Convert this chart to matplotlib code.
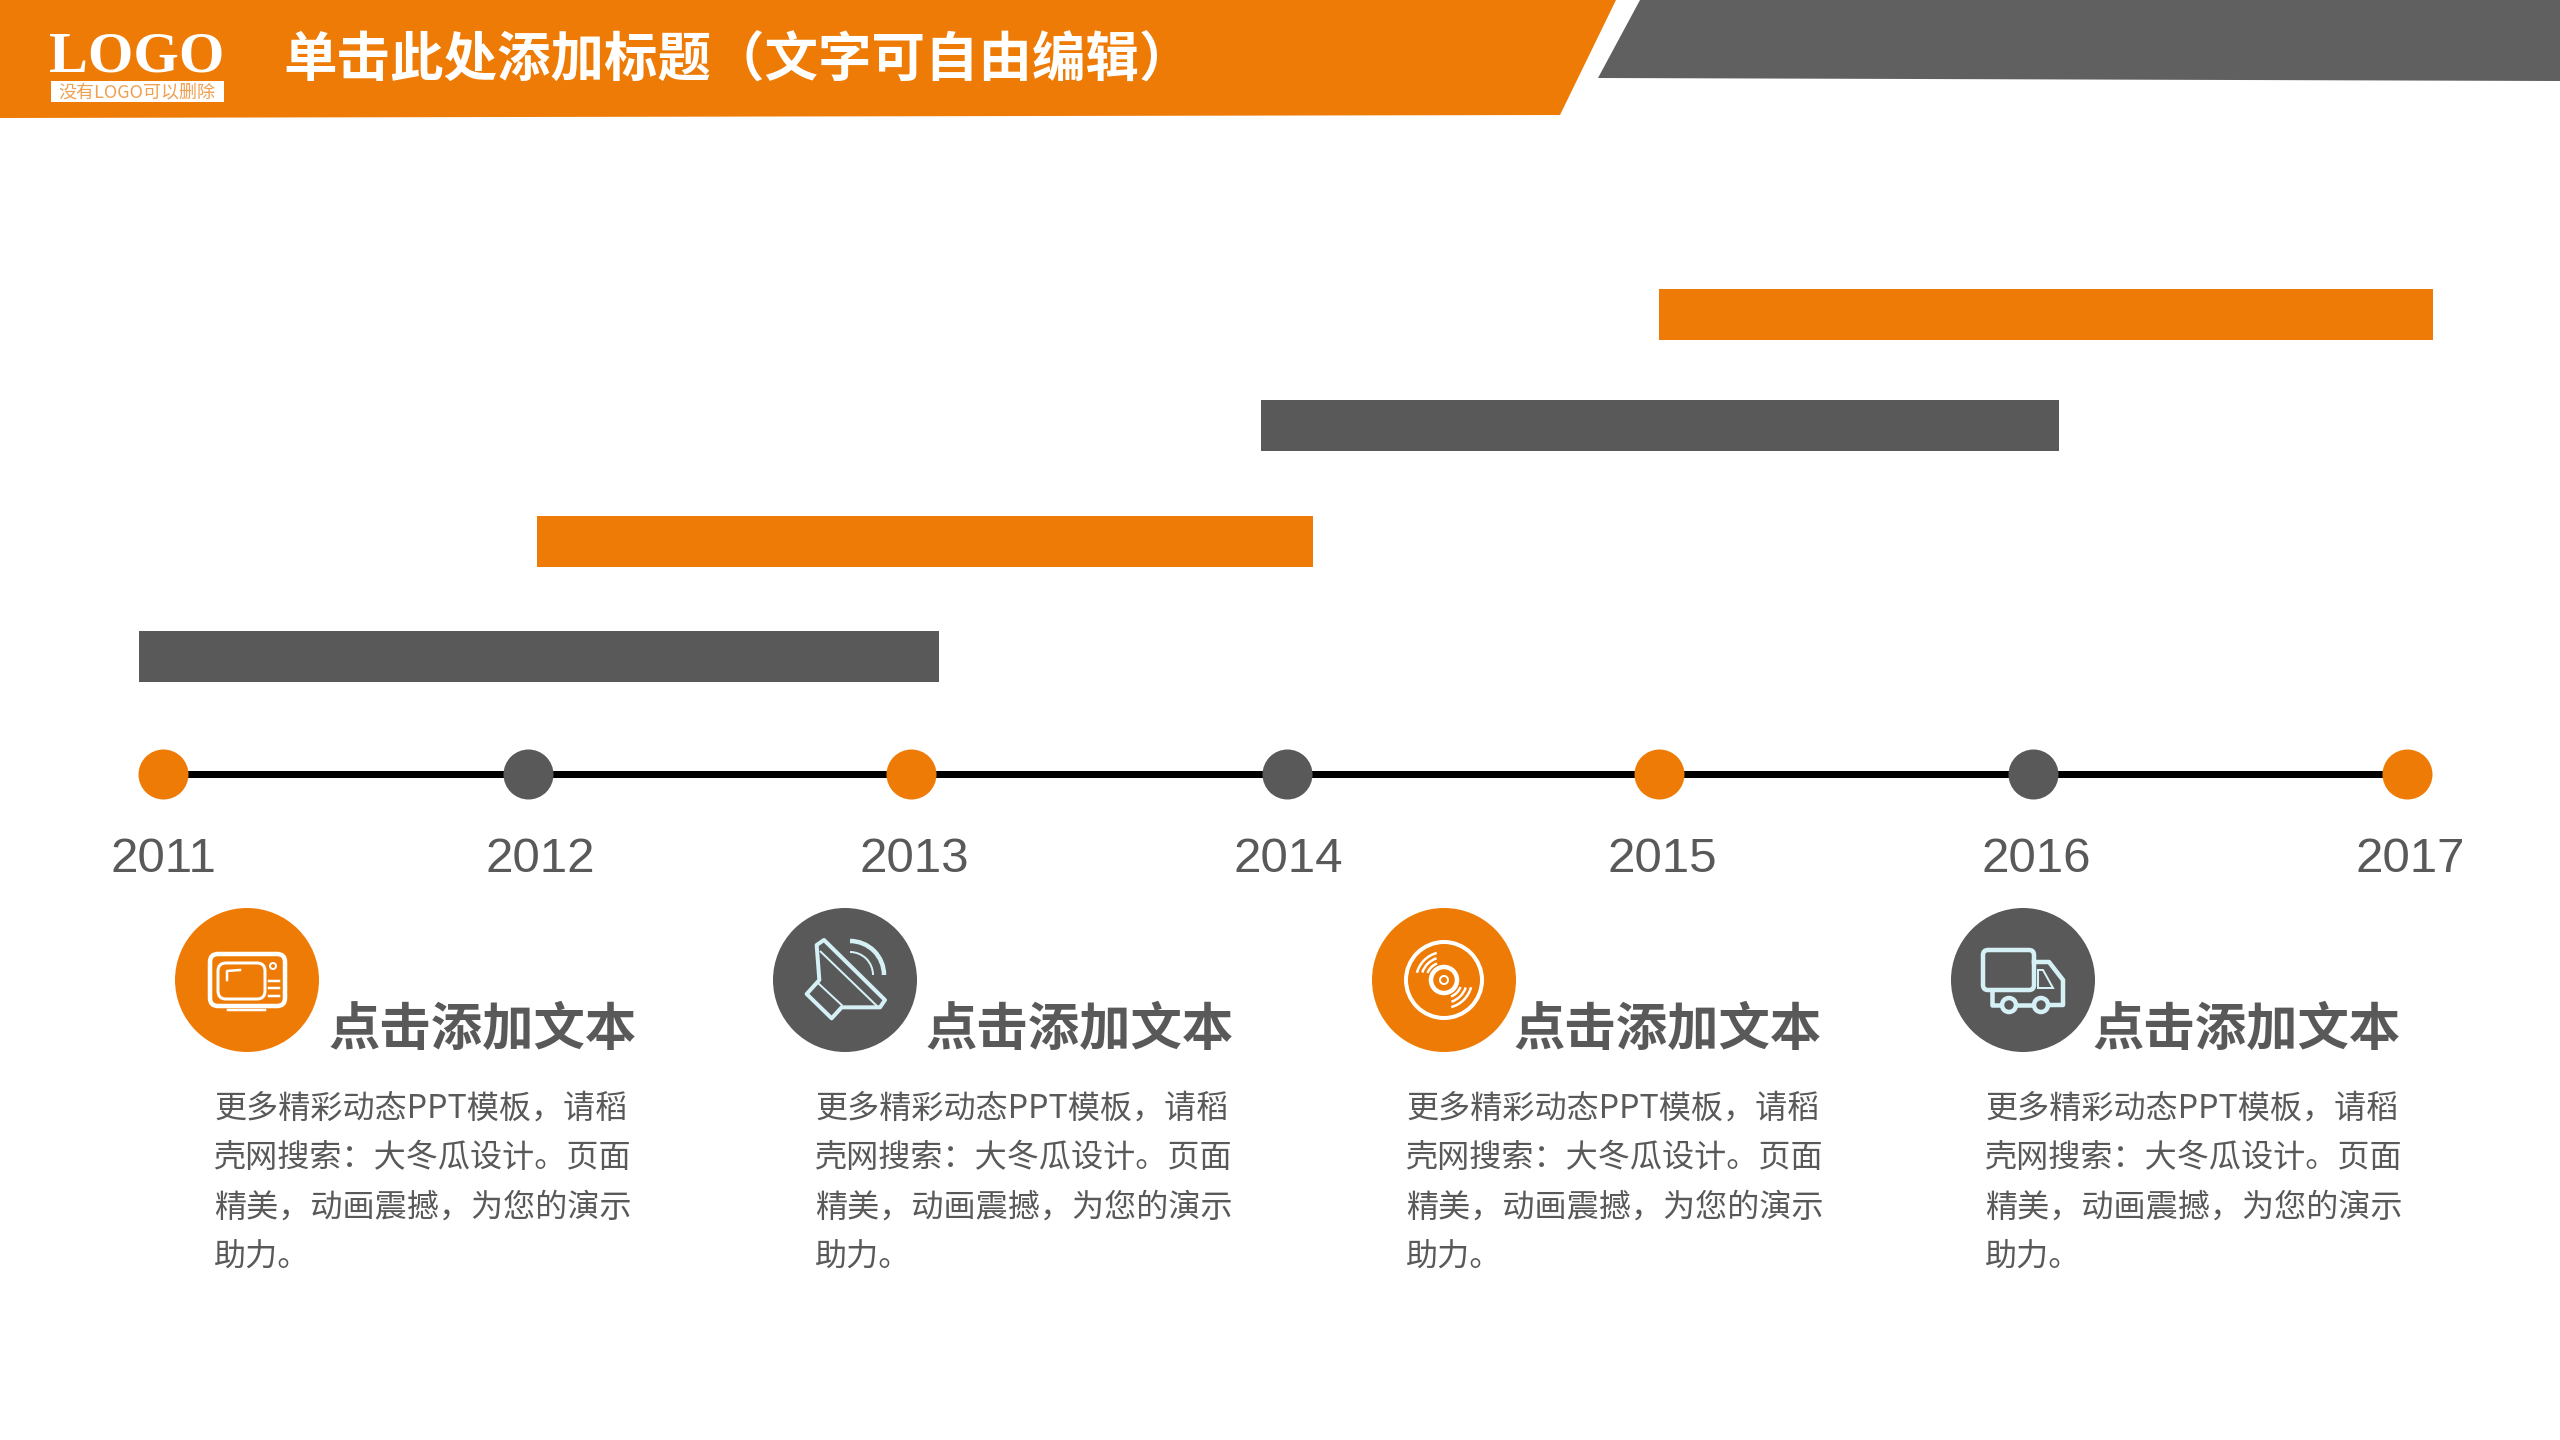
"""
Timeline slide: yearly spans above a dotted axis, four captioned icons below
"""
import numpy as np
import matplotlib
matplotlib.use('Agg')
import matplotlib.pyplot as plt
from matplotlib.patches import Polygon, Circle, FancyBboxPatch, Arc, Rectangle

plt.rcParams['font.family'] = ['Noto Sans CJK SC', 'DejaVu Sans']

ORANGE = '#EE7B06'
GRAY = '#595959'
ICE = '#D6F1F6'

# Data
years = [2011, 2012, 2013, 2014, 2015, 2016, 2017]
dot_years = [2011.0, 2011.975, 2013.0, 2014.005, 2015.0, 2016.0, 2017.0]
label_years = [2011.0, 2012.01, 2013.01, 2014.01, 2015.01, 2016.01, 2017.01]
span_start = [2010.935, 2012.0, 2013.935, 2015.0]
span_end = [2013.075, 2014.075, 2016.07, 2017.07]

title_text = '单击此处添加标题（文字可自由编辑）'
logo_text = 'LOGO'
logo_note = '没有LOGO可以删除'
heading = '点击添加文本'
body_lines = ['更多精彩动态PPT模板，请稻', '壳网搜索：大冬瓜设计。页面', '精美，动画震撼，为您的演示', '助力。']


def px(w):
    """Stroke width in pixels to points (dpi 100)"""
    return w * 0.72


def draw_header(ax):
    ax.add_patch(Polygon([(0, 0), (1616, 0), (1560, 115), (0, 118)], fc=ORANGE, ec='none'))
    ax.add_patch(Polygon([(1640, 0), (2560, 0), (2560, 81), (1598, 78)], fc='#606060', ec='none'))
    ax.text(137, 57, logo_text, color='white', fontsize=42, fontweight='bold',
            family='Liberation Serif', ha='center', va='center')
    ax.add_patch(Rectangle((51, 81), 173, 21, fc='white', ec='none'))
    ax.text(137, 92, logo_note, color='#F0A050', fontsize=13, ha='center', va='center')
    ax.text(283, 61, title_text, color='white', fontsize=38.5, fontweight='bold', ha='left', va='center')


def draw_timeline(fig):
    tl = fig.add_axes([0, 0, 1, 1])
    tl.set_xlim(2011 - 163 / 374, 2011 + (2560 - 163) / 374)
    tl.set_ylim(1440, 0)
    tl.axis('off')
    tl.patch.set_alpha(0)

    rows = [656.5, 541, 425.5, 314.5]
    colors = [GRAY, ORANGE, GRAY, ORANGE]
    lefts = np.array(span_start)
    widths = np.array(span_end) - lefts
    tl.barh(rows, widths, left=lefts, height=51, color=colors)

    tl.plot([dot_years[0], dot_years[-1]], [774, 774], color='black', lw=px(7), zorder=2)
    for i, yr in enumerate(dot_years):
        tl.scatter([yr], [774], s=(2 * 25 * 0.72) ** 2, color=ORANGE if i % 2 == 0 else GRAY,
                   linewidths=0, zorder=3)
    for yr, pos in zip(years, label_years):
        tl.text(pos, 859, str(yr), color=GRAY, fontsize=35.5, family='Liberation Sans',
                ha='center', va='center')


def icon_tv(ax, cx, cy):
    ax.add_patch(FancyBboxPatch((cx - 37, cy - 26), 75, 52, boxstyle='round,pad=0,rounding_size=8',
                                fc='none', ec='white', lw=px(4.5)))
    ax.add_patch(FancyBboxPatch((cx - 29, cy - 17), 47, 36, boxstyle='round,pad=0,rounding_size=8',
                                fc='none', ec='white', lw=px(3)))
    ax.plot([cx - 20, cx - 20, cx - 7], [cy + 0, cy - 9, cy - 10], color='white', lw=px(2.5))
    ax.add_patch(Circle((cx + 26, cy - 14), 3, fc='none', ec='white', lw=px(2)))
    for dy in (1, 8, 16):
        ax.plot([cx + 22, cx + 32], [cy + dy, cy + dy], color='white', lw=px(2.5))
    ax.plot([cx - 19, cx + 18], [cy + 30, cy + 30], color='white', lw=px(2.5))


def icon_speaker(ax, cx, cy):
    x0, y0 = cx - 95, cy - 90
    cone = [(200, 165), (222, 150), (405, 330), (390, 352), (275, 352), (245, 385),
            (170, 312), (208, 270)]
    pts = [(x0 + a / 3, y0 + b / 3) for a, b in cone]
    ax.add_patch(Polygon(pts, closed=True, fc='none', ec=ICE, lw=px(4), joinstyle='round'))
    ax.plot([x0 + 212 / 3, x0 + 385 / 3], [y0 + 185 / 3, y0 + 352 / 3], color=ICE, lw=px(2))
    ax.plot([x0 + 205 / 3, x0 + 275 / 3], [y0 + 280 / 3, y0 + 345 / 3], color=ICE, lw=px(2))
    # inverted y axis, so the arc angles run clockwise on screen
    ax.add_patch(Arc((cx + 5, cy - 5), 68, 68, theta1=270, theta2=360, color=ICE, lw=px(4.5)))
    ax.add_patch(Arc((cx + 5, cy - 5), 46, 46, theta1=270, theta2=360, color=ICE, lw=px(2)))


def icon_disc(ax, cx, cy):
    ax.add_patch(Circle((cx, cy), 38, fc='none', ec='white', lw=px(4)))
    ax.add_patch(Circle((cx, cy), 13, fc='none', ec='white', lw=px(4.5)))
    ax.add_patch(Circle((cx, cy), 4, fc='none', ec='white', lw=px(2)))
    for r, half in ((18, 22), (23, 26), (28, 30)):
        ax.add_patch(Arc((cx, cy), 2 * r, 2 * r, theta1=225 - half, theta2=225 + half, color='white', lw=px(2.5)))
        ax.add_patch(Arc((cx, cy), 2 * r, 2 * r, theta1=45 - half, theta2=45 + half, color='white', lw=px(2.5)))


def icon_truck(ax, cx, cy):
    ax.add_patch(FancyBboxPatch((cx - 40, cy - 30), 51, 40, boxstyle='round,pad=0,rounding_size=5',
                                fc='none', ec=ICE, lw=px(4.5)))
    ax.plot([cx + 11, cx + 26, cx + 40, cx + 40, cx + 24], [cy - 18, cy - 18, cy, cy + 25, cy + 25],
            color=ICE, lw=px(4.5), solid_joinstyle='round')
    ax.plot([cx - 31, cx - 31, cx - 20], [cy + 10, cy + 25, cy + 25], color=ICE, lw=px(4.5))
    ax.plot([cx - 4, cx + 12], [cy + 25, cy + 25], color=ICE, lw=px(4.5))
    ax.add_patch(Polygon([(cx + 15, cy - 10), (cx + 20, cy - 10), (cx + 30, cy + 8), (cx + 15, cy + 8)],
                         fc='none', ec=ICE, lw=px(2)))
    for wx in (cx - 14, cx + 18):
        ax.add_patch(Circle((wx, cy + 25), 7, fc=GRAY, ec=ICE, lw=px(4.5), zorder=5))


def draw_captions(ax):
    centers = [247, 845, 1444, 2023]
    fills = [ORANGE, GRAY, ORANGE, GRAY]
    icons = [icon_tv, icon_speaker, icon_disc, icon_truck]
    head_x = [329, 926, 1514, 2093]
    body_x = [214, 815, 1406, 1985]
    line_y = [1109, 1158, 1208, 1258]
    for cx, fill, icon, hx, bx in zip(centers, fills, icons, head_x, body_x):
        ax.add_patch(Circle((cx, 980), 72, fc=fill, ec='none'))
        icon(ax, cx, 980)
        ax.text(hx, 1029, heading, color=GRAY, fontsize=37, fontweight='bold', ha='left', va='center')
        for line, ly in zip(body_lines, line_y):
            ax.text(bx, ly, line, color=GRAY, fontsize=23.1, ha='left', va='center')


def main():
    fig = plt.figure(figsize=(25.6, 14.4), dpi=100, facecolor='white')
    ax = fig.add_axes([0, 0, 1, 1])
    ax.set_xlim(0, 2560)
    ax.set_ylim(1440, 0)
    ax.axis('off')

    draw_header(ax)
    draw_timeline(fig)
    draw_captions(ax)

    fig.savefig('out.png', dpi=100)
    plt.close(fig)


if __name__ == "__main__":
    main()
